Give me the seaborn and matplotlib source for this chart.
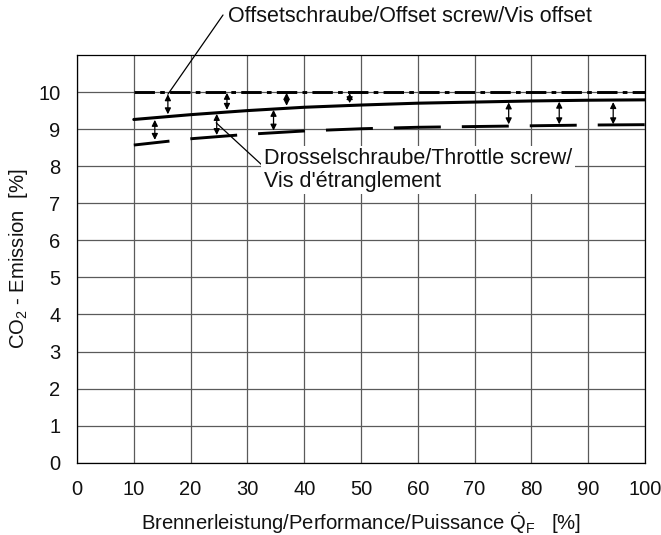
import matplotlib
matplotlib.use("Agg")
import matplotlib.pyplot as plt
import seaborn as sns

# ---- data ----
x_points = [10, 20, 30, 40, 50, 60, 70, 80, 90, 100]
throttle_curve = [9.26, 9.39, 9.50, 9.59, 9.65, 9.70, 9.73, 9.76, 9.78, 9.79]
lower_curve = [8.57, 8.74, 8.86, 8.95, 9.01, 9.05, 9.07, 9.09, 9.11, 9.12]
offset_x = [10, 100]
offset_level = [10.0, 10.0]

upper_arrow_x = [16.0, 26.4, 36.9, 48.0]
upper_arrow_top = [9.94, 9.98, 9.98, 9.97]
upper_arrow_bottom = [9.40, 9.52, 9.63, 9.70]
lower_arrow_x = [13.7, 24.6, 34.6, 76.0, 84.9, 94.4]
lower_arrow_top = [9.25, 9.41, 9.52, 9.72, 9.74, 9.73]
lower_arrow_bottom = [8.71, 8.84, 8.96, 9.13, 9.13, 9.13]

x_ticks = [0, 10, 20, 30, 40, 50, 60, 70, 80, 90, 100]
y_ticks = [0, 1, 2, 3, 4, 5, 6, 7, 8, 9, 10]

offset_label = "Offsetschraube/Offset screw/Vis offset"
throttle_label = "Drosselschraube/Throttle screw/\nVis d'étranglement"
x_label = r"Brennerleistung/Performance/Puissance $\dot{\mathrm{Q}}_{\mathrm{F}}$   [%]"
y_label = r"CO$_2$ - Emission  [%]"

# ---- style ----
sns.set_theme(style="white")
plt.rcParams["font.family"] = ["Liberation Sans", "DejaVu Sans"]
plt.rcParams["mathtext.fontset"] = "custom"
plt.rcParams["mathtext.rm"] = "Liberation Sans"
plt.rcParams["mathtext.default"] = "regular"

W, H = 661, 535
fig = plt.figure(figsize=(W / 100, H / 100), dpi=100)
fig.patch.set_facecolor("white")
ax = fig.add_axes([77 / W, 1 - 462.7 / H, (645 - 77) / W, (462.7 - 55) / H])
ax.set_facecolor("white")

# grid
ax.set_xlim(0, 100)
ax.set_ylim(0, 11)
ax.set_xticks(x_ticks)
ax.set_yticks(y_ticks)
ax.grid(True, color="#5a5a5a", linewidth=0.9)
ax.set_axisbelow(True)
for s in ax.spines.values():
    s.set_color("black")
    s.set_linewidth(0.9)

ax.tick_params(axis="y", length=5.8, width=0.9, color="#4a4a4a", pad=6.0,
               labelsize=14.5, labelcolor="#111111")
ax.tick_params(axis="x", length=4.5, width=0.9, color="#4a4a4a", pad=8.0,
               labelsize=14.5, labelcolor="#111111")

# curves
sns.lineplot(x=offset_x, y=offset_level, ax=ax, color="black", linewidth=2.1)
ax.lines[-1].set_linestyle((0, (7.0, 1.8, 1.6, 1.8)))
sns.lineplot(x=x_points, y=throttle_curve, ax=ax, color="black", linewidth=2.2)
sns.lineplot(x=x_points, y=lower_curve, ax=ax, color="black", linewidth=2.1)
ax.lines[-1].set_linestyle((3.8, (16.1, 7.2)))

# double arrows
arrow_kw = dict(arrowstyle="<|-|>", color="black", lw=0.9, mutation_scale=9,
                shrinkA=0, shrinkB=0)
for xv, t, b in zip(upper_arrow_x, upper_arrow_top, upper_arrow_bottom):
    ax.annotate("", xy=(xv, t), xytext=(xv, b), arrowprops=arrow_kw)
for xv, t, b in zip(lower_arrow_x, lower_arrow_top, lower_arrow_bottom):
    ax.annotate("", xy=(xv, t), xytext=(xv, b), arrowprops=arrow_kw)

# labels
ax.set_xlabel(x_label, fontsize=14.6, labelpad=8, color="#111111")
ax.set_ylabel(y_label, fontsize=14.6, labelpad=6, color="#111111")

# annotations
fig.text(228 / W, 1 - 16 / H, offset_label, ha="left", va="center",
         fontsize=15.5, color="#111111")
ax.annotate("", xy=(upper_arrow_x[0], upper_arrow_top[0]), xycoords="data",
            xytext=(223, H - 15), textcoords="figure pixels",
            arrowprops=dict(arrowstyle="-", color="black", lw=0.9,
                            shrinkA=0, shrinkB=0), annotation_clip=False)

fig.text(264 / W, 1 - 170 / H, throttle_label, ha="left", va="center",
         fontsize=15.5, color="#111111", linespacing=1.08,
         bbox=dict(facecolor="white", edgecolor="none", pad=2))
ax.annotate("", xy=(24.5, 9.17), xycoords="data",
            xytext=(263, H - 166), textcoords="figure pixels",
            arrowprops=dict(arrowstyle="-", color="black", lw=0.9,
                            shrinkA=0, shrinkB=0), annotation_clip=False)

fig.savefig("out.png", dpi=100, facecolor="white")
